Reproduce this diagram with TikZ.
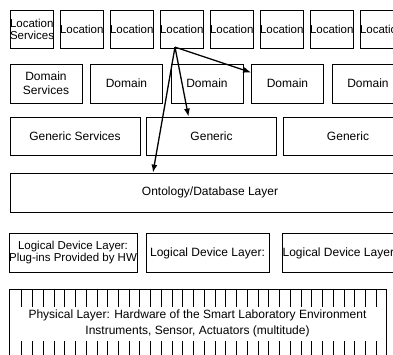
\documentclass[tikz,border=0pt]{standalone}
\usepackage{fontspec}
\setmainfont{Liberation Sans}
\usetikzlibrary{arrows.meta}
\newcommand{\boxfont}[1]{\fontsize{#1}{#1}\selectfont}

\tikzset{
  box/.style={draw, line width=0.8pt, inner sep=0pt, align=center, font=\boxfont{12}},
  locbox/.style={box, text width=43pt, minimum width=43pt, minimum height=38pt, font=\boxfont{11.5}},
  dombox/.style={box, minimum width=72pt, minimum height=39pt},
  genbox/.style={box, minimum width=130pt, minimum height=38pt},
  ldlbox/.style={box, minimum height=39pt},
  link/.style={line width=1.3pt, -{Latex[length=8pt,width=6pt]}}
}

\begin{document}
\begin{tikzpicture}[x=1pt,y=-1pt]
  \useasboundingbox (0,0) rectangle (393,354);
  % top row
  \node[locbox] (loc-1) at (31.5,29) {Location\\[0.5pt]Services};
  \foreach \i in {2,...,8}
    \node[locbox] (loc-\i) at ({31.5+50*(\i-1)},29) {Location};
  % domain row
  \node[dombox] (dom-1) at (46,83.5) {Domain\\[2pt]Services};
  \foreach \i in {2,...,5}
    \node[dombox] (dom-\i) at ({46+80.5*(\i-1)},83.5) {Domain};
  % generic row
  \node[genbox] (gen-1) at (75,136) {Generic Services};
  \foreach \i in {2,3}
    \node[genbox] (gen-\i) at ({75+136.5*(\i-1)},136) {Generic};
  \node[box, minimum width=400pt, minimum height=39pt] (onto) at (210,192.5) {Ontology/Database Layer};
  % logical device layer
  \node[ldlbox, minimum width=128pt, font=\boxfont{11.5}] (ldl-1) at (73,253)
    {Logical Device Layer:\\[0.5pt]Plug-ins Provided by HW};
  \node[ldlbox, minimum width=123pt] (ldl-2) at (207.5,253) {Logical Device Layer:};
  \node[ldlbox, minimum width=116pt] (ldl-3) at (340,253) {Logical Device Layer:};
  % physical layer
  \node[box, minimum width=377pt, minimum height=69pt] (phys) at (197.5,323.5)
    {Physical Layer: Hardware of the Smart Laboratory Environment\\[4pt]Instruments, Sensor, Actuators (multitude)};
  \foreach \k in {0,...,33} {
    \draw[line width=0.8pt] ({21.7+10.745*\k},289) -- ++(0,18);
    \draw[line width=0.8pt] ({21.7+10.745*\k},341) -- ++(0,17);
  }
  % arrows
  \coordinate (src) at ([xshift=-6.5pt,yshift=1.3pt]loc-4.south);
  \draw[link] (src) -- ([yshift=11pt]dom-4.west);
  \draw[link] (src) -- ([xshift=-23pt]gen-2.north);
  \draw[link] (src) -- ([xshift=-57pt]onto.north);
\end{tikzpicture}
\end{document}
